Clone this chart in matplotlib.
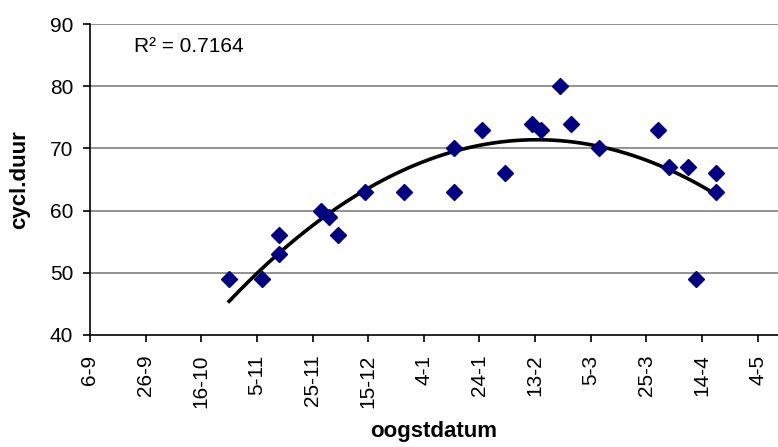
import datetime as dt

import matplotlib

matplotlib.use("Agg")
import matplotlib.dates as mdates
import matplotlib.pyplot as plt
import numpy as np
from matplotlib.ticker import FuncFormatter

# harvest dates (day-month) and cycle duration
harvest_dates = [
    "2006-10-26", "2006-11-07", "2006-11-13", "2006-11-13", "2006-11-28",
    "2006-12-01", "2006-12-04", "2006-12-14", "2006-12-28", "2007-01-15",
    "2007-01-15", "2007-01-25", "2007-02-02", "2007-02-12", "2007-02-15",
    "2007-02-22", "2007-02-26", "2007-03-08", "2007-03-29", "2007-04-02",
    "2007-04-09", "2007-04-12", "2007-04-19", "2007-04-19",
]
cycle_days = [
    49, 49, 56, 53, 60,
    59, 56, 63, 63, 70,
    63, 73, 66, 74, 73,
    80, 74, 70, 73, 67,
    67, 49, 66, 63,
]
r2_label = "R² = 0.7164"

plt.rcParams["font.family"] = ["Liberation Sans", "DejaVu Sans"]

dates = [dt.datetime.strptime(s, "%Y-%m-%d") for s in harvest_dates]
xnum = mdates.date2num(dates)
y = np.array(cycle_days, dtype=float)

# second order trendline, as in the spreadsheet
coef = np.polyfit(xnum, y, 2)
xs = np.linspace(xnum.min(), xnum.max(), 200)
ys = np.polyval(coef, xs)

fig = plt.figure(figsize=(7.78, 4.47), dpi=100)
ax = fig.add_axes([90 / 778, 1 - 335 / 447, 1 - 90 / 778, (335 - 24) / 447])

start = mdates.date2num(dt.datetime(2006, 9, 6))
ticks = [start + 20 * i for i in range(13)]

for v in range(50, 91, 10):
    ax.axhline(v, color="#7f7f7f", linewidth=1.2, zorder=1)

ax.plot(xs, ys, color="black", linewidth=2.6, zorder=2)
ax.plot(xnum, y, linestyle="none", marker="D", markersize=8.5,
        color="#000080", markeredgecolor="#000080", zorder=3)

ax.set_xlim(start, start + 247.3)
ax.set_ylim(40, 90)
ax.set_xticks(ticks)
ax.xaxis.set_major_formatter(
    FuncFormatter(lambda v, pos: f"{mdates.num2date(v).day}-{mdates.num2date(v).month}")
)
ax.set_yticks(range(40, 91, 10))

for side in ("top", "right"):
    ax.spines[side].set_visible(False)
ax.spines["left"].set_linewidth(1.2)
ax.spines["bottom"].set_linewidth(1.2)
ax.tick_params(axis="both", direction="out", length=5, width=1.2, labelsize=15)
ax.tick_params(axis="y", pad=7)
ax.tick_params(axis="x", labelrotation=90, pad=9)

ax.set_xlabel("oogstdatum", fontsize=16, fontweight="bold", va="top")
ax.xaxis.set_label_coords(0.5, -0.276)
ax.set_ylabel("cycl.duur", fontsize=16, fontweight="bold")
ax.yaxis.set_label_coords(-0.087, 0.5)

ax.text(134 / 778, 1 - 47 / 447, r2_label, transform=fig.transFigure,
        fontsize=15, va="center", ha="left")

fig.savefig("out.png", dpi=100)
